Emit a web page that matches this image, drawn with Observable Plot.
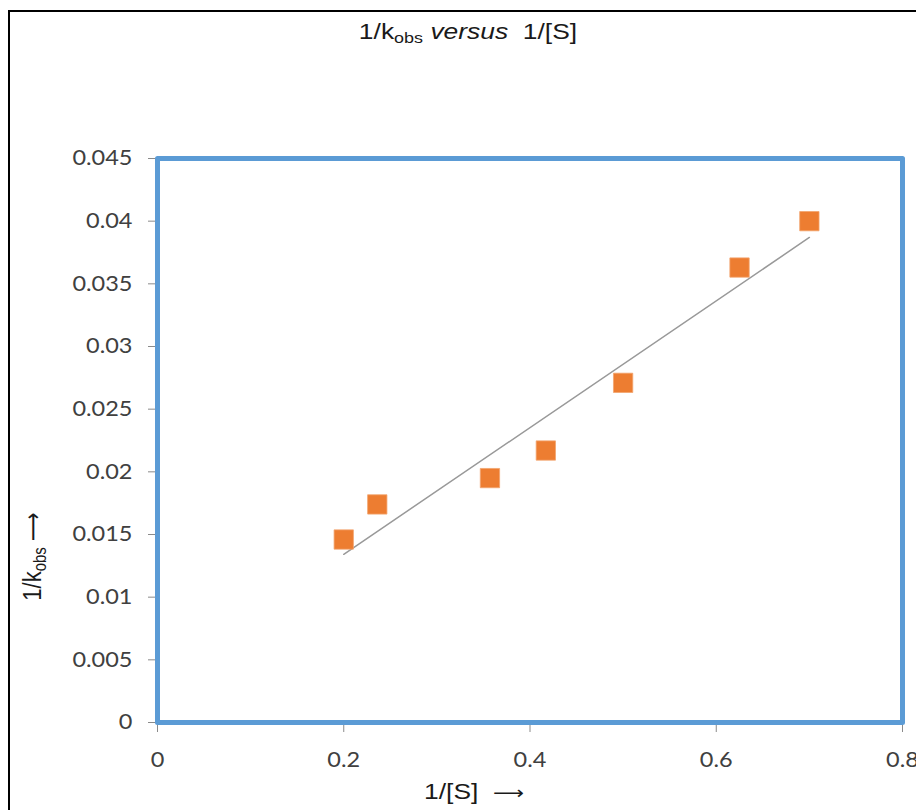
<!DOCTYPE html>
<html>
<head>
<meta charset="utf-8">
<script src="https://cdn.jsdelivr.net/npm/d3@7"></script>
<script src="https://cdn.jsdelivr.net/npm/@observablehq/plot@0.6"></script>
<style>
  html, body { margin: 0; padding: 0; background: #fff; overflow: hidden; width: 916px; height: 810px; }
  #border { position: absolute; left: 8px; top: 10px; width: 1000px; height: 1000px; border: 2px solid #000; box-sizing: border-box; }
  #title { position: absolute; left: 0; top: 20px; width: 936px; text-align: center;
           font-family: "Liberation Sans", Arial, sans-serif; font-size: 22px; line-height: 24px; color: #1a1a1a;
           transform: scaleX(1.2); }
  #title sub { font-size: 0.68em; vertical-align: -0.3em; line-height: 0; }
  #chart { position: absolute; left: 0; top: 60px; }
</style>
</head>
<body>
<div id="border"></div>
<div id="title">1/k<sub>obs</sub> <i>versus</i>&nbsp; 1/[S]</div>
<div id="chart"></div>
<script>
// Data
const xValues = [0.2, 0.236, 0.357, 0.417, 0.5, 0.625, 0.7];          // 1/[S]
const yValues = [0.0146, 0.0174, 0.0195, 0.0217, 0.0271, 0.0363, 0.0400]; // 1/k_obs
const xTicks = [0, 0.2, 0.4, 0.6, 0.8];
const yTicks = [0, 0.005, 0.01, 0.015, 0.02, 0.025, 0.03, 0.035, 0.04, 0.045];
const xLabel = "1/[S]\u00a0\u00a0";
const arrow = "\u27f6";

const data = xValues.map((x, i) => ({x, y: yValues[i]}));

const plot = Plot.plot({
  width: 916,
  height: 750,
  marginLeft: 157,
  marginRight: 14,
  marginTop: 98,
  marginBottom: 88,
  style: {fontFamily: "Lato, 'Open Sans', sans-serif", fontSize: "21px", color: "#404040", background: "transparent"},
  x: {domain: [0, 0.8]},
  y: {domain: [0, 0.045]},
  marks: [
    Plot.ruleY([0], {stroke: "#8a8a8a", strokeWidth: 1.2}),
    Plot.ruleX([0], {stroke: "#8a8a8a", strokeWidth: 1.2}),
    Plot.axisY(yTicks, {tickSize: 9, tickPadding: 16, tickFormat: d => String(d), stroke: "#8a8a8a", fill: "#404040", label: null}),
    Plot.axisX(xTicks, {tickSize: 10, tickPadding: 20, tickFormat: d => String(d), stroke: "#8a8a8a", fill: "#404040", label: null}),
    Plot.frame({stroke: "#5B9BD5", strokeWidth: 5, strokeLinejoin: "round"}),
    Plot.linearRegressionY(data, {x: "x", y: "y", stroke: "#999999", strokeWidth: 1.5, ci: 0}),
    Plot.dot(data, {x: "x", y: "y", symbol: "square", r: 10.9, fill: "#ED7D31", stroke: "#F2A46E", strokeWidth: 0.8})
  ]
});
document.getElementById("chart").appendChild(plot);

const svg = d3.select(plot);
// Widen tick labels horizontally to match the reference's wide lettering
svg.selectAll('g[aria-label="x-axis tick label"] text, g[aria-label="y-axis tick label"] text')
  .attr("transform", function() { return (this.getAttribute("transform") || "") + " scale(1.12,1)"; });

// Y axis title with subscript
const yl = svg.append("text")
  .attr("transform", "translate(41,496.5) rotate(-90) scale(1,1.2)")
  .attr("text-anchor", "middle")
  .attr("font-family", "'Liberation Sans', Arial, sans-serif")
  .attr("font-size", 22)
  .attr("fill", "#1a1a1a");
yl.append("tspan").text("1/k");
yl.append("tspan").attr("font-size", 15).attr("dy", 4).text("obs");
yl.append("tspan").attr("dy", -4).text("\u00a0");
yl.append("tspan").attr("font-family", "'DejaVu Sans', sans-serif").attr("font-size", 20).text(arrow);

// X axis title
const xl = svg.append("text")
  .attr("transform", "translate(474,739) scale(1.2,1)")
  .attr("text-anchor", "middle")
  .attr("font-family", "'Liberation Sans', Arial, sans-serif")
  .attr("font-size", 22)
  .attr("fill", "#1a1a1a");
xl.append("tspan").text(xLabel);
xl.append("tspan").attr("font-family", "'DejaVu Sans', sans-serif").attr("font-size", 18).text(arrow);
</script>
</body>
</html>
